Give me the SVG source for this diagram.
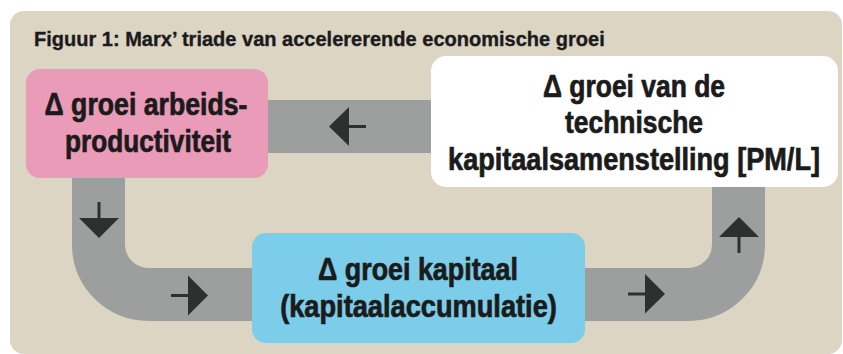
<svg xmlns="http://www.w3.org/2000/svg" width="843" height="354" viewBox="0 0 843 354">
<style>
.lbl{font-family:"Liberation Sans",Arial,sans-serif;font-weight:bold;fill:#1b1b1b;text-anchor:middle;font-size:31px;stroke:#1b1b1b;stroke-width:0.7px}
.ttl{font-family:"Liberation Sans",Arial,sans-serif;font-weight:bold;fill:#1b1b1b;font-size:19.5px;stroke:#1b1b1b;stroke-width:0.35px}
.pipe{fill:none;stroke:#9d9f9e;stroke-width:53}
.head{fill:#2e302f}
.stem{stroke:#2e302f;stroke-width:3}
</style>
<rect x="0" y="0" width="843" height="354" fill="#ffffff"/>
<rect x="10" y="11" width="832" height="343" rx="14" fill="#dcd5c3"/>
<g transform="translate(34,46) scale(0.87,1)">
<text class="ttl" x="0" y="0" textLength="656" lengthAdjust="spacingAndGlyphs">Figuur 1: Marx’ triade van accelererende economische groei</text>
</g>
<g id="connectors">
<rect x="260" y="100" width="180" height="53" fill="#9d9f9e"/>
<path class="pipe" d="M98.5 170 V244.5 A50 50 0 0 0 148.5 294.5 H262"/>
<path class="pipe" d="M575 294.5 H688.5 A50 50 0 0 0 738.5 244.5 V180"/>
<polygon class="head" points="329,126.5 349,107 349,146"/>
<line class="stem" x1="348" y1="126.5" x2="366" y2="126.5"/>
<polygon class="head" points="79,218 119,218 99,238"/>
<line class="stem" x1="99" y1="202" x2="99" y2="219"/>
<polygon class="head" points="188,275.5 188,315.5 208,295.5"/>
<line class="stem" x1="171" y1="295.5" x2="189" y2="295.5"/>
<polygon class="head" points="645,274 645,313.5 665,294"/>
<line class="stem" x1="628" y1="294" x2="646" y2="294"/>
<polygon class="head" points="719,237 759,237 739,217"/>
<line class="stem" x1="739" y1="236" x2="739" y2="253"/>
</g>
<g id="node-arbeidsproductiviteit">
<rect x="26" y="69" width="242" height="109" rx="14" fill="#e99bb8"/>
<g transform="translate(146,115) scale(0.873,1)"><text class="lbl" x="0" y="0" textLength="232.5" lengthAdjust="spacingAndGlyphs">Δ groei arbeids-</text></g>
<g transform="translate(148,152) scale(0.873,1)"><text class="lbl" x="0" y="0" textLength="190" lengthAdjust="spacingAndGlyphs">productiviteit</text></g>
</g>
<g id="node-technische">
<rect x="431" y="56" width="407" height="131" rx="15" fill="#ffffff"/>
<g transform="translate(634,97) scale(0.873,1)"><text class="lbl" x="0" y="0" textLength="208.5" lengthAdjust="spacingAndGlyphs">Δ groei van de</text></g>
<g transform="translate(634,133) scale(0.873,1)"><text class="lbl" x="0" y="0" textLength="158" lengthAdjust="spacingAndGlyphs">technische</text></g>
<g transform="translate(634,170) scale(0.873,1)"><text class="lbl" x="0" y="0" textLength="426" lengthAdjust="spacingAndGlyphs">kapitaalsamenstelling [PM/L]</text></g>
</g>
<g id="node-kapitaal">
<rect x="252" y="233" width="333" height="110" rx="14" fill="#7ccde9"/>
<g transform="translate(418,280) scale(0.873,1)"><text class="lbl" x="0" y="0" textLength="229" lengthAdjust="spacingAndGlyphs">Δ groei kapitaal</text></g>
<g transform="translate(418.5,317) scale(0.873,1)"><text class="lbl" x="0" y="0" textLength="317" lengthAdjust="spacingAndGlyphs">(kapitaalaccumulatie)</text></g>
</g>
</svg>
